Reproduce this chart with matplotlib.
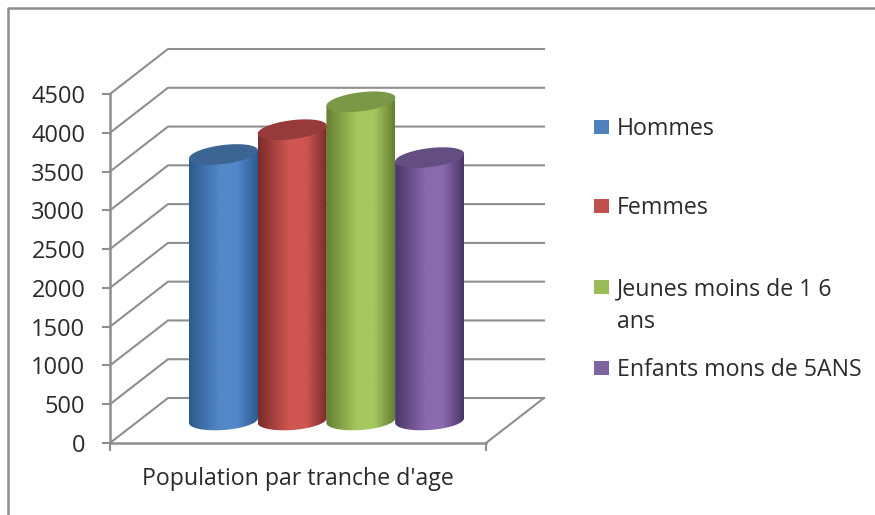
import numpy as np
import matplotlib
matplotlib.use('Agg')
import matplotlib.pyplot as plt
from matplotlib.colors import LinearSegmentedColormap
from matplotlib.patches import Polygon, Rectangle
from matplotlib.lines import Line2D

plt.rcParams['font.family'] = ['Open Sans', 'DejaVu Sans']

# data
series = ['Hommes', 'Femmes', 'Jeunes moins de 1 6\nans', 'Enfants mons de 5ANS']
values = [3430, 3750, 4110, 3390]
y_ticks = [0, 500, 1000, 1500, 2000, 2500, 3000, 3500, 4000, 4500]
category_label = "Population par tranche d'age"

# edge, centre, top ellipse
edge_colors = ['#2c5a8e', '#7a2c2a', '#667f33', '#4a3668']
mid_colors = ['#5388c9', '#cf5552', '#a5c75e', '#8b6aae']
top_colors = ['#3d6594', '#963a3a', '#7b9846', '#644d80']
legend_colors = ['#4f81bd', '#c0504d', '#9bbb59', '#8064a2']

W, H = 875, 515
GRAY = '#8e8e8e'
TEXT = '#2b2b2b'

fig = plt.figure(figsize=(W / 100, H / 100), dpi=100)


def fx(px):
    return px / W


def fy(py):
    return 1 - py / H


# outer frame, only top and left are visible in the crop
fig.add_artist(Line2D([fx(8), fx(8), fx(875)], [fy(515), fy(8), fy(8)], color=GRAY, lw=1.8))

ax = fig.add_axes([fx(110), fy(443), 376 / W, 349 / H])
ax.set_xlim(0, 4)
ax.set_ylim(0, 4500)

# depth of the fake 3d box, in data units
dx = 58 / 94
dy = 45 / 349 * 4500

for v in y_ticks:
    ax.plot([0, dx, 4 + dx], [v, v + dy, v + dy], color=GRAY, lw=1.5, clip_on=False, zorder=1)
ax.plot([4, 4 + dx], [0, dy], color=GRAY, lw=1.5, clip_on=False, zorder=1)

for name in ['top', 'right']:
    ax.spines[name].set_visible(False)
for name in ['left', 'bottom']:
    ax.spines[name].set_color(GRAY)
    ax.spines[name].set_linewidth(1.8)
ax.set_yticks(y_ticks)
ax.set_xticks([0, 4])
ax.set_xticklabels([])
ax.tick_params(axis='both', color=GRAY, width=1.5, length=5.8)
ax.tick_params(axis='y', labelsize=17, labelcolor=TEXT, pad=12)
ax.set_xlabel(category_label, fontsize=16.7, color=TEXT, labelpad=8)

# cylinders
rx = 34.5 / 94
ry = 9.5 / 349 * 4500
tilt = 4 / 349 * 4500
base = dy / 2
t = np.linspace(0, 2 * np.pi, 120)
lower = np.linspace(np.pi, 2 * np.pi, 60)

for i, val in enumerate(values):
    cx = (223.5 + 68.7 * i - 110) / 94
    top_y = val + base
    top_x = cx + rx * np.cos(t)
    top_line = top_y + ry * np.sin(t) + tilt * np.cos(t)

    low_x = cx + rx * np.cos(lower)
    low_y = base + ry * np.sin(lower) + tilt * np.cos(lower) * 0.6

    # body outline: bottom arc then up to the rim
    body = np.vstack([
        np.column_stack([low_x, low_y]),
        [[cx + rx, top_y + tilt]],
        [[cx - rx, top_y - tilt]],
    ])
    cmap = LinearSegmentedColormap.from_list(
        'c%d' % i,
        [(0, edge_colors[i]), (0.45, mid_colors[i]), (0.7, mid_colors[i]), (1, edge_colors[i])])
    grad = np.linspace(0, 1, 200)[np.newaxis, :]
    im = ax.imshow(grad, cmap=cmap, aspect='auto', zorder=3 + i,
                   extent=[cx - rx, cx + rx, 0, top_y + tilt])
    patch = Polygon(body, closed=True, transform=ax.transData, facecolor='none', edgecolor='none')
    ax.add_patch(patch)
    im.set_clip_path(patch)
    ax.fill(top_x, top_line, color=top_colors[i], lw=0, zorder=3 + i, clip_on=False)

ax.set_xlim(0, 4)
ax.set_ylim(0, 4500)

# legend placed by hand, the third entry wraps on two lines
legend_y = [127, 206, 287, 368]
for name, col, py in zip(series, legend_colors, legend_y):
    fig.add_artist(Rectangle((fx(594), fy(py + 7)), 15 / W, 14 / H, transform=fig.transFigure,
                             facecolor=col, edgecolor='none'))
    fig.text(fx(617), fy(py - 10), name, fontsize=16.7, color=TEXT, va='top', ha='left',
             linespacing=1.5)

fig.savefig('out.png', dpi=100)
